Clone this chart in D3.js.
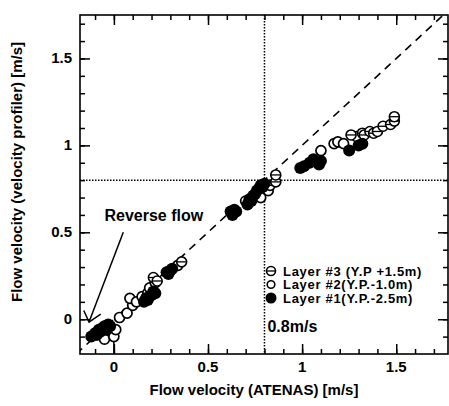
<!DOCTYPE html>
<html><head><meta charset="utf-8">
<script src="https://cdn.jsdelivr.net/npm/d3@7"></script>
<style>body{margin:0;background:#fff}svg text{font-family:"Liberation Sans",Arial,sans-serif;font-weight:bold;fill:#000}</style>
</head><body><svg id="c" width="449" height="406"></svg>
<script>
// ---- data ----
const layer1X = [-0.12,-0.10,-0.09,-0.08,-0.07,-0.06,-0.05,-0.04,-0.03,-0.02,0.16,0.17,0.18,0.19,0.20,0.21,0.22,0.28,0.29,0.30,0.31,0.62,0.63,0.64,0.65,0.71,0.72,0.73,0.74,0.75,0.76,0.77,0.78,0.79,0.80,0.99,1.01,1.04,1.06,1.09,1.10,1.25,1.30,1.32];
const layer1Y = [-0.10,-0.08,-0.09,-0.06,-0.07,-0.05,-0.04,-0.06,-0.03,-0.04,0.10,0.12,0.11,0.13,0.14,0.16,0.15,0.27,0.26,0.28,0.29,0.62,0.60,0.63,0.62,0.66,0.69,0.68,0.71,0.72,0.74,0.75,0.77,0.76,0.78,0.87,0.88,0.90,0.92,0.89,0.91,0.97,1.00,1.01];
const layer2X = [-0.05,0.00,0.01,0.03,0.07,0.10,0.085,0.12,0.15,0.18,0.19,0.22,0.34,0.70,0.78,0.82,1.10,1.17,1.19,1.22,1.29];
const layer2Y = [-0.115,-0.10,-0.06,0.01,0.035,0.08,0.12,0.10,0.13,0.15,0.18,0.21,0.31,0.68,0.70,0.74,0.97,1.01,1.02,1.01,1.05];
const layer3X = [0.21,0.23,0.36,0.83,0.86,0.86,1.26,1.32,1.33,1.36,1.38,1.40,1.43,1.47,1.49,1.49];
const layer3Y = [0.24,0.22,0.33,0.77,0.79,0.83,1.06,1.07,1.06,1.08,1.07,1.08,1.11,1.12,1.14,1.165];
const legendLabels = ["Layer #3 (Y.P +1.5m)","Layer #2(Y.P.-1.0m)","Layer #1(Y.P.-2.5m)"];
const xTicks = [0,0.5,1,1.5];
const yTicks = [0,0.5,1,1.5];
const xTickLabels = ["0","0.5","1","1.5"];
const yTickLabels = ["0","0.5","1","1.5"];
const refValue = 0.8;

// ---- layout ----
const svg = d3.select("#c");
const L=80,R=448,T=15,B=354;
const x = d3.scaleLinear().domain([-0.18,1.775]).range([L,R]);
const y = d3.scaleLinear().domain([-0.2,1.75]).range([B,T]);

const minorX = d3.range(-1,18).map(i=>i/10).filter(v=>v>x.domain()[0]);
const minorY = d3.range(-1,18).map(i=>i/10).filter(v=>v>y.domain()[0]&&v<y.domain()[1]);

svg.append("clipPath").attr("id","pc").append("rect").attr("x",L).attr("y",T).attr("width",R-L).attr("height",B-T);

function ax(gen, tr, major, minor){
  const g1 = svg.append("g").attr("transform",tr).call(gen.tickValues(minor).tickSize(-5).tickFormat(""));
  g1.select(".domain").remove();
  g1.selectAll("line").attr("stroke","#000").attr("stroke-width",1.5);
  const g2 = svg.append("g").attr("transform",tr).call(gen.tickValues(major).tickSize(-10).tickFormat(""));
  g2.select(".domain").remove();
  g2.selectAll("line").attr("stroke","#000").attr("stroke-width",1.5);
}
ax(d3.axisBottom(x),`translate(0,${B})`,xTicks,minorX);
ax(d3.axisTop(x),`translate(0,${T})`,xTicks,minorX);
ax(d3.axisLeft(y),`translate(${L},0)`,yTicks,minorY);
ax(d3.axisRight(y),`translate(${R},0)`,yTicks,minorY);

svg.append("g").selectAll("text").data(xTicks).join("text")
  .attr("x",d=>x(d)).attr("y",B+18).attr("text-anchor","middle").attr("font-size",15)
  .text((d,i)=>xTickLabels[i]);
svg.append("g").selectAll("text").data(yTicks).join("text")
  .attr("x",L-8).attr("y",d=>y(d)+5).attr("text-anchor","end").attr("font-size",15)
  .text((d,i)=>yTickLabels[i]);

svg.append("text").attr("x",254).attr("y",395).attr("text-anchor","middle").attr("font-size",15)
  .text("Flow velocity (ATENAS) [m/s]");
svg.append("text").attr("transform",`translate(22,${172}) rotate(-90)`).attr("text-anchor","middle").attr("font-size",15)
  .text("Flow velocity (velocity profiler) [m/s]");

const plot = svg.append("g").attr("clip-path","url(#pc)");
plot.append("line").attr("x1",x(refValue)).attr("x2",x(refValue)).attr("y1",T).attr("y2",B)
  .attr("stroke","#000").attr("stroke-width",1.5).attr("stroke-dasharray","1.5,1.5");
plot.append("line").attr("x1",L).attr("x2",R).attr("y1",y(refValue)).attr("y2",y(refValue))
  .attr("stroke","#000").attr("stroke-width",1.5).attr("stroke-dasharray","1.5,1.5");
plot.append("line").attr("x1",x(-0.2)).attr("y1",y(-0.2)).attr("x2",x(1.8)).attr("y2",y(1.8))
  .attr("stroke","#000").attr("stroke-width",1.6).attr("stroke-dasharray","8,6");
plot.append("line").attr("x1",x(0)).attr("x2",x(0)).attr("y1",y(-0.015)).attr("y2",B)
  .attr("stroke","#000").attr("stroke-width",1.5);

svg.append("rect").attr("x",L).attr("y",T).attr("width",R-L).attr("height",B-T)
  .attr("fill","none").attr("stroke","#000").attr("stroke-width",1.6);

const zip=(a,b)=>a.map((v,i)=>[v,b[i]]);
plot.append("g").selectAll("circle").data(zip(layer2X,layer2Y)).join("circle")
  .attr("cx",d=>x(d[0])).attr("cy",d=>y(d[1])).attr("r",5).attr("fill","#fff").attr("stroke","#000").attr("stroke-width",1.7);
function theta(g,cx,cy,r){
  g.append("circle").attr("cx",cx).attr("cy",cy).attr("r",r).attr("fill","#fff").attr("stroke","#000").attr("stroke-width",1.6);
  g.append("line").attr("x1",cx-r).attr("x2",cx+r).attr("y1",cy).attr("y2",cy).attr("stroke","#000").attr("stroke-width",1.3);
}
const g3 = plot.append("g");
zip(layer3X,layer3Y).forEach(d=>theta(g3,x(d[0]),y(d[1]),5));
plot.append("g").selectAll("circle").data(zip(layer1X,layer1Y)).join("circle")
  .attr("cx",d=>x(d[0])).attr("cy",d=>y(d[1])).attr("r",6).attr("fill","#000");

// annotation
svg.append("text").attr("x",x(-0.05)).attr("y",y(0.565)).attr("font-size",16).text("Reverse flow");
const tip=[-0.132,-0.016];
svg.append("line").attr("x1",x(0.05)).attr("y1",y(0.50)).attr("x2",x(tip[0])).attr("y2",y(tip[1]))
  .attr("stroke","#000").attr("stroke-width",1.5);
svg.append("path").attr("d",`M${x(-0.16)},${y(0.05)}L${x(tip[0])},${y(tip[1])}L${x(-0.07)},${y(0.03)}`)
  .attr("fill","none").attr("stroke","#000").attr("stroke-width",1.5);

// legend
const lg = svg.append("g");
const ly=[271,284.5,298];
legendLabels.forEach((t,i)=>{
  lg.append("text").attr("x",283).attr("y",ly[i]+4.5).attr("font-size",13).attr("letter-spacing",0.7).text(t);
});
theta(lg,271,ly[0],4.5);
lg.append("circle").attr("cx",271).attr("cy",ly[1]).attr("r",3.8).attr("fill","#fff").attr("stroke","#000").attr("stroke-width",1.6);
lg.append("circle").attr("cx",271).attr("cy",ly[2]).attr("r",5.5).attr("fill","#000");
svg.append("text").attr("x",x(refValue)+3).attr("y",332).attr("font-size",16).text("0.8m/s");
</script></body></html>
